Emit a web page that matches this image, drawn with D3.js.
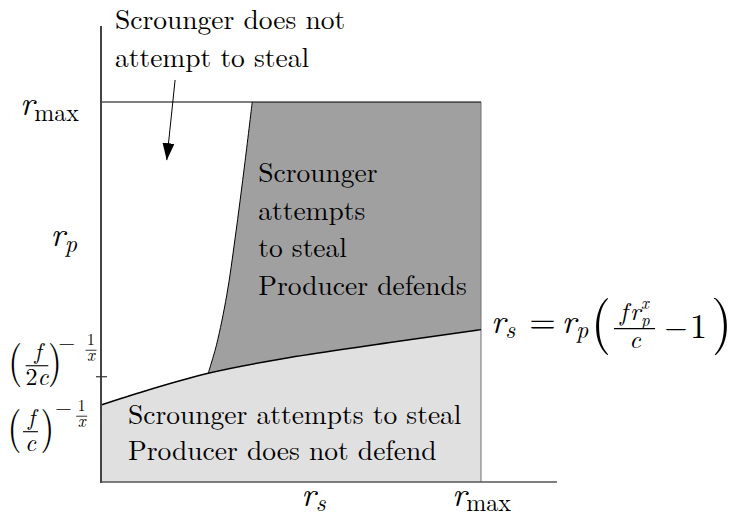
<!DOCTYPE html>
<html>
<head>
<meta charset="utf-8">
<script src="https://d3js.org/d3.v7.min.js"></script>
</head>
<body style="margin:0">
<script>

	var w = 731;
	var h = 516;

	// region boundaries, in units of r_max
	var lowerX = [0, 0.116, 0.282, 0.511, 0.774, 1];
	var lowerY = [0.2026, 0.2395, 0.286, 0.330, 0.369, 0.401];
	var stealX = [0.398, 0.379, 0.353, 0.331, 0.304, 0.282];
	var stealY = [1.0, 0.843, 0.642, 0.492, 0.361, 0.286];

	// tick positions on the axes
	var rMax = 1;
	var rpValue = 0.658;
	var halfThreshold = 0.277;   // (f/2c)^(-1/x)
	var rsValue = 0.559;
	var axisEnd = 1.2;

	var topText = ["Scrounger does not", "attempt to steal"];
	var darkText = ["Scrounger", "attempts", "to steal", "Producer defends"];
	var lightText = ["Scrounger attempts to steal", "Producer does not defend"];
	var arrowFrom = [0.195, 1.058];
	var arrowTo = [0.173, 0.847];

	var FONT = "'Latin Modern Roman', 'Liberation Serif', serif";

	var svg = d3.select("body")
		.append("svg")
		.attr("width", w)
		.attr("height", h);

	var x = d3.scaleLinear().domain([0, 1]).range([101, 481]);
	var y = d3.scaleLinear().domain([0, 1]).range([482, 102]);

	var stealPts = d3.zip(stealX, stealY);
	var lowerPts = d3.zip(lowerX, lowerY);
	var last = stealPts[stealPts.length - 1];

	var stealLine = d3.line()
		.x(function(d){ return x(d[0]); })
		.y(function(d){ return y(d[1]); })
		.curve(d3.curveCatmullRom);

	var lowerLine = d3.line()
		.x(function(d){ return x(d[0]); })
		.y(function(d){ return y(d[1]); })
		.curve(d3.curveMonotoneX);

	var lowerArea = d3.area()
		.x(function(d){ return x(d[0]); })
		.y0(y(0))
		.y1(function(d){ return y(d[1]); })
		.curve(d3.curveMonotoneX);

	// producer defends (dark), then the lower region on top
	svg.append("path")
		.attr("d", stealLine(stealPts) +
			"L" + x(last[0]) + "," + y(0) +
			"L" + x(rMax) + "," + y(0) +
			"L" + x(rMax) + "," + y(rMax) + "Z")
		.attr("fill", "#a0a0a0");

	svg.append("path")
		.attr("d", lowerArea(lowerPts))
		.attr("fill", "#e0e0e0");

	// box edges
	svg.append("line")
		.attr("x1", x(rMax)).attr("x2", x(rMax))
		.attr("y1", y(0)).attr("y2", y(rMax))
		.attr("stroke", "#707070").attr("stroke-width", 1);
	svg.append("line")
		.attr("x1", x(0)).attr("x2", x(rMax))
		.attr("y1", y(rMax)).attr("y2", y(rMax))
		.attr("stroke", "#000").attr("stroke-width", 1.2);

	svg.append("path")
		.attr("d", stealLine(stealPts))
		.attr("fill", "none").attr("stroke", "#000").attr("stroke-width", 1);
	svg.append("path")
		.attr("d", lowerLine(lowerPts))
		.attr("fill", "none").attr("stroke", "#000").attr("stroke-width", 1.5);

	// axes
	svg.append("line")
		.attr("x1", x(0)).attr("x2", x(0))
		.attr("y1", y(0) + 1).attr("y2", y(axisEnd))
		.attr("stroke", "#444").attr("stroke-width", 2);
	svg.append("line")
		.attr("x1", x(0)).attr("x2", x(axisEnd))
		.attr("y1", y(0)).attr("y2", y(0))
		.attr("stroke", "#555").attr("stroke-width", 1.6);
	svg.append("line")
		.attr("x1", x(0) - 5).attr("x2", x(0) + 6)
		.attr("y1", y(halfThreshold)).attr("y2", y(halfThreshold))
		.attr("stroke", "#333").attr("stroke-width", 1.2);

	// arrow
	svg.append("defs").append("marker")
		.attr("id", "head")
		.attr("markerUnits", "userSpaceOnUse")
		.attr("markerWidth", 18).attr("markerHeight", 12)
		.attr("refX", 17).attr("refY", 6)
		.attr("orient", "auto")
		.append("path")
		.attr("d", "M0,0L17,6L0,12Z")
		.attr("fill", "#000");
	svg.append("line")
		.attr("x1", x(arrowFrom[0])).attr("y1", y(arrowFrom[1]))
		.attr("x2", x(arrowTo[0])).attr("y2", y(arrowTo[1]))
		.attr("stroke", "#000").attr("stroke-width", 1)
		.attr("marker-end", "url(#head)");

	// region texts
	function block(lines, x0, y0, step) {
		svg.selectAll(null)
			.data(lines)
			.enter()
			.append("text")
			.attr("x", x0)
			.attr("y", function(d, i){ return y0 + i * step; })
			.style("font-family", FONT)
			.style("font-size", "27.5px")
			.text(function(d){ return d; });
	}
	block(topText, x(0) + 14, y(rMax) - 73.5, 38);
	block(darkText, x(stealX[0]) + 6, y(rMax) + 80, 37.7);
	block(lightText, x(0) + 27, y(0) - 58, 36);

	// math helpers
	function txt(g, px, py, s, size, italic, anchor) {
		return g.append("text")
			.attr("x", px).attr("y", py)
			.attr("text-anchor", anchor || "start")
			.style("font-family", FONT)
			.style("font-style", italic ? "italic" : "normal")
			.style("font-size", size + "px")
			.text(s);
	}

	function span(t, s, size, italic, dy, dx) {
		return t.append("tspan")
			.attr("dy", dy || 0)
			.attr("dx", dx || 0)
			.style("font-style", italic ? "italic" : "normal")
			.style("font-size", size + "px")
			.text(s);
	}

	function rsub(g, px, py, sub, anchor, dy) {
		var t = txt(g, px, py, null, 34, false, anchor);
		span(t, "r", 34, true);
		span(t, sub, 24, sub != "max", dy || 6);
		return t;
	}

	// stretched delimiter: ink box (left, centre y, height, width)
	function paren(g, ch, inkLeft, cy, ht, inkW) {
		var s = ht;
		var sx = inkW / (0.233 * s);
		var off = (ch == "(" ? 0.099 : 0.057) * s * sx;
		g.append("text")
			.attr("transform", "translate(" + (inkLeft - off) + "," + (cy + 0.25 * s) + ") scale(" + sx + ",1)")
			.style("font-family", FONT)
			.style("font-size", s + "px")
			.text(ch);
	}

	function bar(g, x1, x2, yy, sw) {
		g.append("line")
			.attr("x1", x1).attr("x2", x2)
			.attr("y1", yy).attr("y2", yy)
			.attr("stroke", "#000").attr("stroke-width", sw || 1);
	}

	// (f / den)^(-1/x) label, yb = fraction bar
	function powerLabel(g, yb, den, p) {
		paren(g, "(", p.pl, yb - 0.7, 44.6, 8.3);
		bar(g, p.bl, p.br, yb, 1.1);
		var c = (p.bl + p.br) / 2;
		txt(g, c + 1, yb - 7, "f", 23, true, "middle");
		var d = txt(g, c, yb + 19, null, 24, false, "middle");
		if (den.length > 1) span(d, den[0], 24, false);
		span(d, den[den.length - 1], 24, true);
		paren(g, ")", p.pr, yb - 0.7, 44.6, 8.3);
		txt(g, p.m - 1.8, p.my + 5.4, "\u2212", 21.8, false);
		bar(g, p.sc - 5.5, p.sc + 5.5, yb - 15.5, 0.8);
		txt(g, p.sc, yb - 20.5, "1", 15.5, false, "middle");
		txt(g, p.sc, yb - 5, "x", 17, true, "middle");
	}

	var lab = svg.append("g");

	// y axis labels
	rsub(lab, x(0) - 22, y(rMax) + 13, "max", "end");
	rsub(lab, x(0) - 24, y(rpValue) + 14, "p", "end");
	var yb1 = y(halfThreshold) - 11;
	powerLabel(lab, yb1, ["2", "c"],
		{pl: 11.7, bl: 25.7, br: 48.3, pr: 50, m: 60, my: yb1 - 20.7, sc: 91});
	var yb2 = y(lowerY[0]) + 26.7;
	powerLabel(lab, yb2, ["c"],
		{pl: 11, bl: 23, br: 38, pr: 42.5, m: 56.7, my: yb2 - 21.7, sc: 81.7});

	// x axis labels
	rsub(lab, x(rsValue), y(0) + 24, "s", "middle", 4.5);
	rsub(lab, x(rMax) - 29, y(0) + 24, "max", "start", 4.5);

	// boundary equation at the end of the lower curve
	var ex = x(rMax), ey = y(lowerY[lowerY.length - 1]);
	var eq = txt(lab, ex + 10, ey + 3.5, null, 34, false);
	span(eq, "r", 34, true);
	span(eq, "s", 24, true, 5);
	span(eq, "=", 34, false, -5, 14);
	span(eq, "r", 34, true, 0, 6);
	span(eq, "p", 24, true, 5);

	paren(lab, "(", ex + 115, ey - 3.6, 58, 12);
	txt(lab, ex + 139, ey - 10, "f", 25, true);
	txt(lab, ex + 149, ey - 10, "r", 25, true);
	txt(lab, ex + 160, ey - 21, "x", 17, true);
	txt(lab, ex + 160, ey - 4, "p", 17, true);
	bar(lab, ex + 133, ex + 174, ey - 1, 1.1);
	txt(lab, ex + 154, ey + 18, "c", 25, true, "middle");
	txt(lab, ex + 183.6, ey + 7.4, "\u2212", 29.5, false);
	txt(lab, ex + 209, ey + 8, "1", 34, false);
	paren(lab, ")", ex + 234, ey - 3.6, 58, 12);

</script>
</body>
</html>
